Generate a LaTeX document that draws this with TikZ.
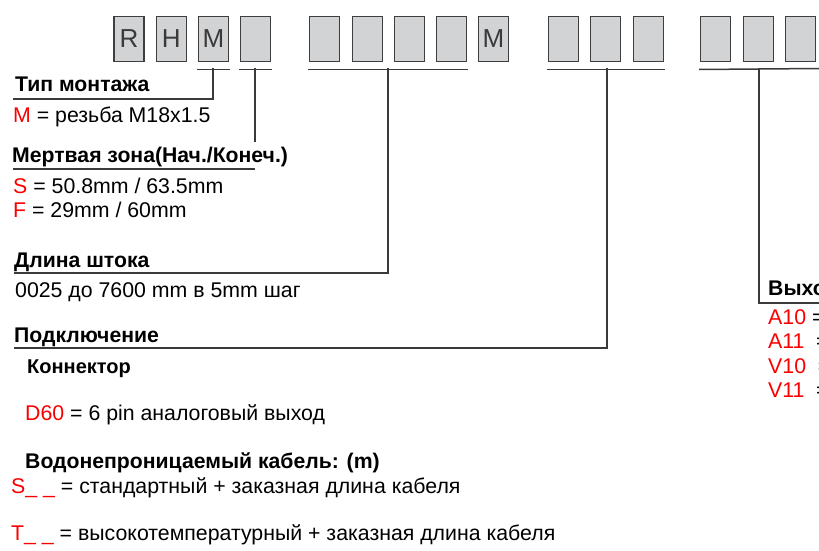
\documentclass[tikz,border=0pt]{standalone}
\usepackage{fontspec}
\setmainfont{Liberation Sans}
\usetikzlibrary{calc}
\definecolor{boxfill}{RGB}{210,211,213}
\definecolor{boxline}{RGB}{62,62,62}
\definecolor{ln}{RGB}{58,58,58}
\definecolor{codered}{RGB}{250,0,0}
\tikzset{
  codebox/.style={draw=boxline, fill=boxfill, line width=1.3pt, minimum width=30pt, minimum height=45pt, inner sep=0pt, anchor=north west, text=ln, font=\fontsize{26}{26}\selectfont},
  lead/.style={draw=ln, line width=1.5pt},
  head/.style={anchor=base west, inner sep=0pt, font=\fontsize{21.2}{24}\selectfont\bfseries},
  subhead/.style={anchor=base west, inner sep=0pt, font=\fontsize{20}{24}\selectfont\bfseries},
  txt/.style={anchor=base west, inner sep=0pt, font=\fontsize{21.3}{24}\selectfont},
}
\newcommand{\rd}[1]{\textcolor{codered}{#1}}
\begin{document}
\begin{tikzpicture}[x=1pt,y=-1pt]
\useasboundingbox (0,0) rectangle (819,551);
\clip (0,0) rectangle (819,551);
% code boxes
\foreach \i/\xx/\t in {1/113.4/R,2/155.7/H,3/197.7/M,4/239.7/,5/308.7/,6/351.7/,7/393.7/,8/435.7/,9/477.7/M,10/547.7/,11/589.7/,12/632.7/,13/699.7/,14/742.7/,15/784.7/}
  \node[codebox] (b\i) at (\xx,15.7) {\t};
% bracket coordinates
\coordinate (g1l) at ($(b3.south west)+(-0.7,7.5)$);
\coordinate (g1r) at ($(b3.south east)+(0.7,7.5)$);
\coordinate (g2l) at ($(b4.south west)+(-0.7,7.5)$);
\coordinate (g2r) at ($(b4.south east)+(0.7,7.5)$);
\coordinate (g3l) at ($(b5.south west)+(-0.7,7.5)$);
\coordinate (g3r) at ($(b8.south east)+(0.7,7.5)$);
\coordinate (g4l) at ($(b10.south west)+(-0.7,7.5)$);
\coordinate (g4r) at ($(b12.south east)+(0.7,7.5)$);
\coordinate (g5l) at ($(b13.south west)+(-0.7,7.5)$);
\coordinate (g5r) at (819,68.5);
\draw[lead] (g1l) -- (g1r);
\draw[lead] (g2l) -- (g2r);
\draw[lead] (g3l) -- (g3r);
\draw[lead] (g4l) -- (g4r);
\draw[lead] (g5l) -- (g5r);
% leader coordinates
\coordinate (m1) at (213,68.5);  \coordinate (c1) at (213,99);  \coordinate (e1) at (13,99);
\coordinate (m2) at (255,68.5);  \coordinate (c2) at (255,142);
\coordinate (u2r) at (255,169);  \coordinate (u2l) at (13,169);
\coordinate (m3) at (388,68.5);  \coordinate (c3) at (388,273); \coordinate (e3) at (14,273);
\coordinate (m4) at (607,68.5);  \coordinate (c4) at (607,348); \coordinate (e4) at (14,348);
\coordinate (m5) at (759,68.5);  \coordinate (c5) at (759,303); \coordinate (e5) at (819,303);
\draw[lead] (m1) -- (c1) -- (e1);
\draw[lead] (m2) -- (c2);
\draw[lead] (u2l) -- (u2r);
\draw[lead] (m3) -- (c3) -- (e3);
\draw[lead] (m4) -- (c4) -- (e4);
\draw[lead] (m5) -- (c5) -- (e5);
% texts
\node[head] (t1) at (15,92) {Тип монтажа};
\node[txt] (t1a) at (13,122) {\rd{M} = резьба M18x1.5};
\node[head] (t2) at (12,162) {Мертвая зона(Нач./Конеч.)};
\node[txt] (t2a) at (13,193) {\rd{S} = 50.8mm / 63.5mm};
\node[txt] (t2b) at (13,217) {\rd{F} = 29mm / 60mm};
\node[head] (t3) at (14,267) {Длина штока};
\node[txt] (t3a) at (15,297) {0025 до 7600 mm в 5mm шаг};
\node[head] (t4) at (14,342) {Подключение};
\node[subhead] (t4a) at (27,373) {Коннектор};
\node[txt] (t4b) at (25,420) {\rd{D60} = 6 pin аналоговый выход};
\node[head] (t4c) at (25,468) {Водонепроницаемый кабель: (m)};
\node[txt] (t4d) at (11,493) {\rd{S\_ \_} = стандартный + заказная длина кабеля};
\node[txt] (t4e) at (11,540) {\rd{T\_ \_} = высокотемпературный + заказная длина кабеля};
\node[head] (t5) at (768,295) {Выход};
\node[txt] (t5a) at (768,324) {\rd{A10} =};
\node[txt] (t5b) at (768,348) {\rd{A11}\hspace{0.55em}=};
\node[txt] (t5c) at (768,373) {\rd{V10}\hspace{0.55em}=};
\node[txt] (t5d) at (768,397) {\rd{V11}\hspace{0.55em}=};
\end{tikzpicture}
\end{document}
